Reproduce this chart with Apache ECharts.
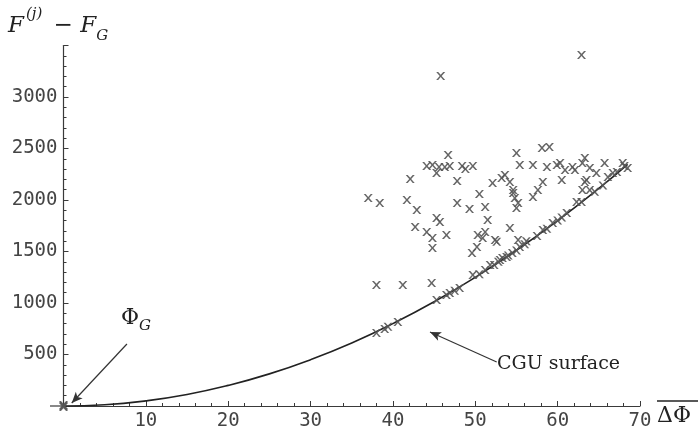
<!DOCTYPE html>
<html><head><meta charset="utf-8">
<script src="https://cdn.jsdelivr.net/npm/echarts@6/dist/echarts.min.js"></script>
<style>html,body{margin:0;padding:0;background:#fff}#c{width:699px;height:434px}</style>
</head><body><div id="c"></div>
<script>
// Scatter data: [ΔΦ, F(j) - F_G]
const scatterX = [45.8,62.9,46.7,44.1,44.8,45.6,46.3,46.9,48.4,48.8,49.7,45.3,47.8,42.1,55.0,55.4,57.0,58.1,59.0,58.7,59.9,60.3,60.9,61.8,63.0,63.3,63.9,65.7,67.9,66.7,62.1,64.7,63.5,63.0,52.1,53.2,53.6,54.2,54.6,54.8,55.0,55.2,54.6,58.2,57.6,57.0,60.5,63.3,50.5,37.0,38.4,41.7,42.9,47.8,49.3,51.2,51.5,45.3,45.7,42.7,44.1,44.8,46.5,44.8,50.3,50.9,51.2,52.4,52.6,54.2,49.6,50.2,55.2,38.0,41.2,44.7,
  38.0,39.0,39.4,40.6,45.3,46.5,46.9,48.1,49.7,51.8,53.0,53.3,53.8,54.5,55.4,56.2,58.2,59.4,61.1,62.3,62.9,63.9,66.1,67.2,68.1,68.5,
  47.5,50.5,51.2,52.3,52.8,54.0,55.0,56.0,57.5,58.7,60.0,60.5,64.5,65.5,0,0,0];
const scatterY = [3204,3408,2437,2330,2340,2320,2320,2330,2330,2301,2330,2262,2184,2204,2456,2340,2340,2505,2515,2320,2340,2359,2291,2320,2359,2408,2311,2359,2359,2262,2291,2262,2194,2097,2165,2214,2243,2175,2097,2019,1922,1971,2068,2175,2097,2029,2194,2175,2058,2019,1971,2000,1903,1971,1913,1932,1806,1825,1786,1738,1689,1631,1660,1534,1660,1631,1689,1612,1595,1728,1485,1544,1612,1175,1175,1194,
  709,748,770,816,1029,1078,1097,1146,1272,1369,1417,1437,1447,1485,1544,1600,1709,1777,1874,1981,1981,2097,2223,2272,2330,2311,
  1120,1280,1320,1370,1400,1460,1510,1570,1650,1720,1800,1830,2080,2140,0,10,-10];
// CGU surface curve
const curveX = [0,5,10,15,20,25,30,35,40,45,50,55,60,65,68.5];
const curveY = [0,12,50,112,200,312,450,612,800,1012,1250,1512,1800,2112,2346];
const xTicks = [10,20,30,40,50,60,70];
const yTicks = [500,1000,1500,2000,2500,3000];

const pts = scatterX.map((x,i)=>[x, scatterY[i]]);
const curve = curveX.map((x,i)=>[x, curveY[i]]);
const xSym = 'path://M0,0L2.2,0L5,3.6L7.8,0L10,0L6.1,5L10,10L7.8,10L5,6.4L2.2,10L0,10L3.9,5Z';
const axisCol = '#3a3a3a';
const labelFont = {fontFamily:'DejaVu Sans Mono', fontSize:19, color:'#444'};

const chart = echarts.init(document.getElementById('c'), null, {renderer:'canvas'});
chart.setOption({
  animation:false,
  backgroundColor:'#fff',
  grid:{left:63.5, right:59, top:45.5, bottom:28, containLabel:false},
  xAxis:{type:'value', min:0, max:70, interval:10,
    axisLine:{show:true, onZero:false, lineStyle:{color:axisCol, width:1.2}},
    axisTick:{show:true, inside:true, length:5, lineStyle:{color:axisCol}},
    minorTick:{show:true, splitNumber:5, length:3, lineStyle:{color:axisCol}},
    splitLine:{show:false},
    axisLabel:Object.assign({margin:6, formatter:v=>xTicks.includes(v)?String(v):''}, labelFont)
  },
  yAxis:{type:'value', min:0, max:3500, interval:500,
    axisLine:{show:true, onZero:false, lineStyle:{color:axisCol, width:1.2}},
    axisTick:{show:true, inside:true, length:5, lineStyle:{color:axisCol}},
    minorTick:{show:true, splitNumber:5, length:3, lineStyle:{color:axisCol}},
    splitLine:{show:false},
    axisLabel:Object.assign({margin:6, formatter:v=>yTicks.includes(v)?String(v):''}, labelFont)
  },
  series:[
    {type:'line', data:curve, smooth:true, showSymbol:false, symbol:'none', z:3,
     lineStyle:{color:'#222', width:1.6},
     markLine:{silent:true, symbol:['none','arrow'], symbolSize:[7,11], label:{show:false},
       lineStyle:{color:'#333', width:1.2, type:'solid'},
       data:[
         [{coord:[7.7,602]},{coord:[1.0,29]}],
         [{coord:[52.6,427]},{coord:[44.5,718]}]
       ]}
    },
    {type:'scatter', data:pts, symbol:xSym, symbolSize:[9,8], clip:false, z:4,
     itemStyle:{color:'#555', opacity:0.9}}
  ],
  graphic:[
    {type:'line', shape:{x1:50, y1:406, x2:64, y2:406}, style:{stroke:axisCol, lineWidth:1.2}},
    {type:'text', left:8, top:6, style:{
      text:'{f|F}{s|(j)}{m| − }{f|F}{g|G}',
      rich:{
        f:{fontFamily:'DejaVu Serif', fontStyle:'italic', fontSize:23, fill:'#222', verticalAlign:'bottom', lineHeight:32},
        m:{fontFamily:'DejaVu Serif', fontSize:23, fill:'#222', verticalAlign:'bottom', lineHeight:32},
        s:{fontFamily:'DejaVu Serif', fontStyle:'italic', fontSize:15, fill:'#222', verticalAlign:'top', lineHeight:32, padding:[1,4,0,2]},
        g:{fontFamily:'DejaVu Serif', fontStyle:'italic', fontSize:15, fill:'#222', verticalAlign:'bottom', lineHeight:32, padding:[0,0,-6,0]}
      }}},
    {type:'text', left:657, top:405, style:{text:'ΔΦ', fontFamily:'DejaVu Serif', fontSize:22, fill:'#222'}},
    {type:'line', shape:{x1:657, y1:401, x2:698, y2:401}, style:{stroke:'#222', lineWidth:1.3}},
    {type:'text', left:121, top:307, style:{text:'{p|Φ}{g|G}', rich:{
      p:{fontFamily:'DejaVu Serif', fontSize:22, fill:'#222', verticalAlign:'bottom', lineHeight:28},
      g:{fontFamily:'DejaVu Serif', fontStyle:'italic', fontSize:15, fill:'#222', verticalAlign:'bottom', lineHeight:28, padding:[0,0,-5,0]}
    }}},
    {type:'text', left:497, top:355, style:{text:'CGU surface', fontFamily:'DejaVu Serif', fontSize:19, fill:'#222'}}
  ]
});
</script></body></html>
